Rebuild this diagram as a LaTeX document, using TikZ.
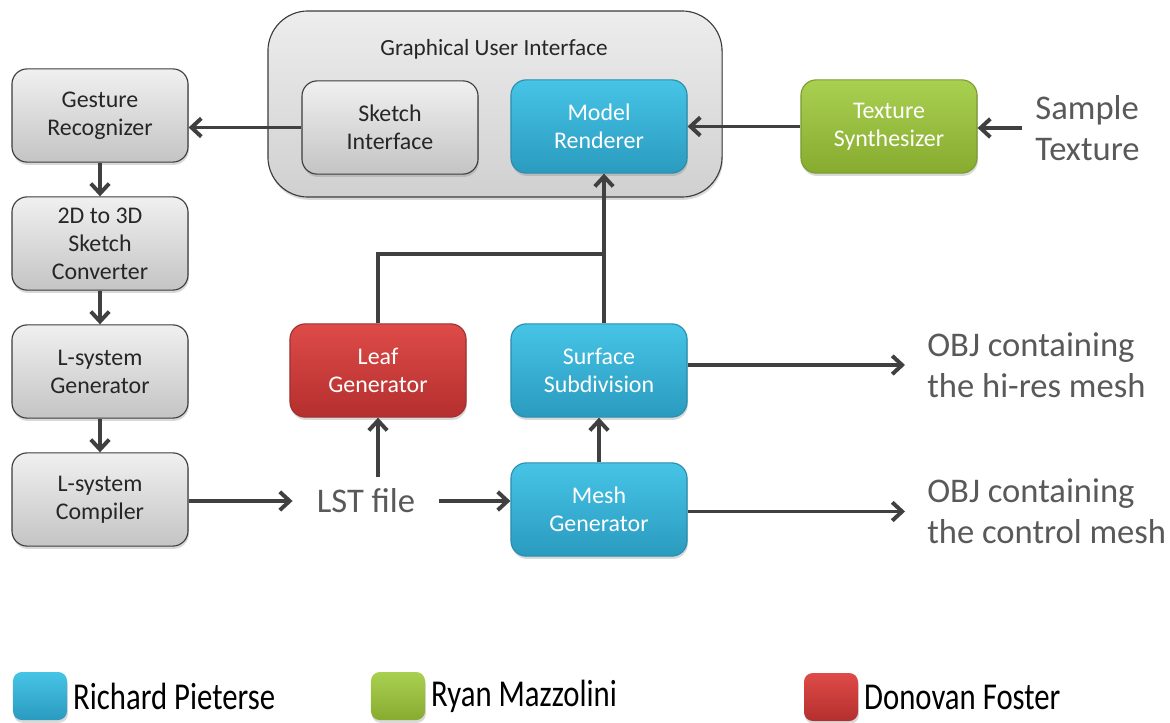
\documentclass[tikz,border=0pt]{standalone}
\usepackage{fontspec}
\setmainfont{Carlito}
\usetikzlibrary{arrows.meta,shadows}
\definecolor{linegray}{HTML}{404040}
\definecolor{freegray}{HTML}{595959}
\definecolor{boxtext}{HTML}{262626}
\definecolor{grayborder}{HTML}{3C3C3C}
\definecolor{graytop}{HTML}{F0F0F0}
\definecolor{graybot}{HTML}{C4C4C4}
\definecolor{guitop}{HTML}{EDEDED}
\definecolor{guibot}{HTML}{D0D0D0}
\definecolor{bluetop}{HTML}{46C4E6}
\definecolor{bluebot}{HTML}{2A9BBF}
\definecolor{blueborder}{HTML}{2A8DAE}
\definecolor{greentop}{HTML}{AAD052}
\definecolor{greenbot}{HTML}{86AB2E}
\definecolor{greenborder}{HTML}{7A9C2E}
\definecolor{redtop}{HTML}{DE4B48}
\definecolor{redbot}{HTML}{B42F2E}
\definecolor{redborder}{HTML}{A03030}
\newcommand{\boxfont}{\fontsize{17}{19.8}\selectfont}
\newcommand{\bigfont}{\fontsize{24.6}{29}\selectfont}
\newcommand{\legendfont}{\fontsize{27}{30}\selectfont}
\newcommand{\legendtext}[1]{\scalebox{0.81}[1]{#1}}
\tikzset{
  box/.style={rounded corners=0.38cm, minimum width=4.4cm, minimum height=2.33cm,
    align=center, font=\boxfont, line width=0.8pt,
    drop shadow={opacity=0.3, shadow xshift=0.6pt, shadow yshift=-2pt}},
  graybox/.style={box, draw=grayborder, top color=graytop, bottom color=graybot, text=boxtext},
  bluebox/.style={box, draw=blueborder, top color=bluetop, bottom color=bluebot, text=white},
  greenbox/.style={box, draw=greenborder, top color=greentop, bottom color=greenbot, text=white},
  redbox/.style={box, draw=redborder, top color=redtop, bottom color=redbot, text=white},
  swatch/.style={rounded corners=0.22cm, minimum width=1.35cm, minimum height=1.2cm,
    drop shadow={opacity=0.3, shadow xshift=0.6pt, shadow yshift=-2pt}},
  freetext/.style={font=\bigfont, text=freegray, align=left},
  flow/.style={draw=linegray, line width=2.8pt, -{Straight Barb[length=7pt,width=13pt]}},
  plain/.style={draw=linegray, line width=2.8pt},
}
\begin{document}
\begin{tikzpicture}[x=0.025cm,y=-0.025cm]
  \useasboundingbox (0,0) rectangle (1170,723);
  % graphical user interface
  \node[draw=grayborder, line width=0.8pt, rounded corners=1cm, top color=guitop, bottom color=guibot,
    minimum width=11.35cm, minimum height=4.65cm,
    drop shadow={opacity=0.3, shadow xshift=0.6pt, shadow yshift=-2pt}] (gui) at (495,104) {};
  \node[font=\fontsize{16.5}{20}\selectfont, text=boxtext] (guititle) at (494,49) {Graphical User Interface};
  \node[graybox] (sketch) at (390,127.5) {Sketch\\Interface};
  \node[bluebox] (model) at (599,126.5) {Model\\Renderer};
  \node[greenbox] (texture) at (889,126.5) {Texture\\Synthesizer};
  \node[freetext, anchor=west, inner xsep=0.33cm, inner ysep=0pt] (sample) at (1022,128) {Sample\\Texture};
  % left column
  \node[graybox] (gesture) at (100,115.5) {Gesture\\Recognizer};
  \node[graybox] (converter) at (100,243.5) {2D to 3D\\Sketch\\Converter};
  \node[graybox] (lgen) at (100,371.5) {L-system\\Generator};
  \node[graybox] (lcomp) at (100,499.5) {L-system\\Compiler};
  % mesh pipeline
  \node[redbox] (leaf) at (378,370.5) {Leaf\\Generator};
  \node[bluebox] (surface) at (599,370.5) {Surface\\Subdivision};
  \node[bluebox] (mesh) at (599,509.5) {Mesh\\Generator};
  \node[freetext, inner xsep=0.6cm, inner ysep=0.3cm] (lst) at (366,501) {LST file};
  \node[freetext, anchor=west, inner xsep=0.55cm, inner ysep=0pt] (hires) at (905,365) {OBJ containing\\the hi-res mesh};
  \node[freetext, anchor=west, inner xsep=0.55cm, inner ysep=0pt] (control) at (905,511.5) {OBJ containing\\the control mesh};
  \coordinate (join) at (604,254);

  \draw[flow] (sketch.west) -- (sketch.west -| gesture.east);
  \draw[flow] (gesture.south) -- (converter.north);
  \draw[flow] (converter.south) -- (lgen.north);
  \draw[flow] (lgen.south) -- (lcomp.north);
  \draw[flow] (lcomp.east |- lst.west) -- (lst.west);
  \draw[flow] (lst.east) -- (lst.east -| mesh.west);
  \draw[flow] (leaf.south |- lst.north) -- (leaf.south);
  \draw[flow] (mesh.north) -- (surface.south);
  \draw[plain] (leaf.north) |- (join);
  \draw[flow] (surface.north -| join) -- (model.south -| join);
  \draw[flow] (texture.west) -- (model.east);
  \draw[flow] (sample.west) -- (sample.west -| texture.east);
  \draw[flow] (hires.west -| surface.east) -- (hires.west);
  \draw[flow] (control.west -| mesh.east) -- (control.west);

  % legend
  \node[swatch, top color=bluetop, bottom color=bluebot] (keyblue) at (40,696) {};
  \node[anchor=west, font=\legendfont, inner xsep=4pt] (nameblue) at (keyblue.east) {\legendtext{Richard Pieterse}};
  \node[swatch, top color=greentop, bottom color=greenbot] (keygreen) at (398,696) {};
  \node[anchor=west, font=\legendfont, inner xsep=4pt] (namegreen) at (keygreen.east) {\legendtext{Ryan Mazzolini}};
  \node[swatch, top color=redtop, bottom color=redbot] (keyred) at (831,697) {};
  \node[anchor=west, font=\legendfont, inner xsep=4pt] (namered) at (keyred.east) {\legendtext{Donovan Foster}};
\end{tikzpicture}
\end{document}
